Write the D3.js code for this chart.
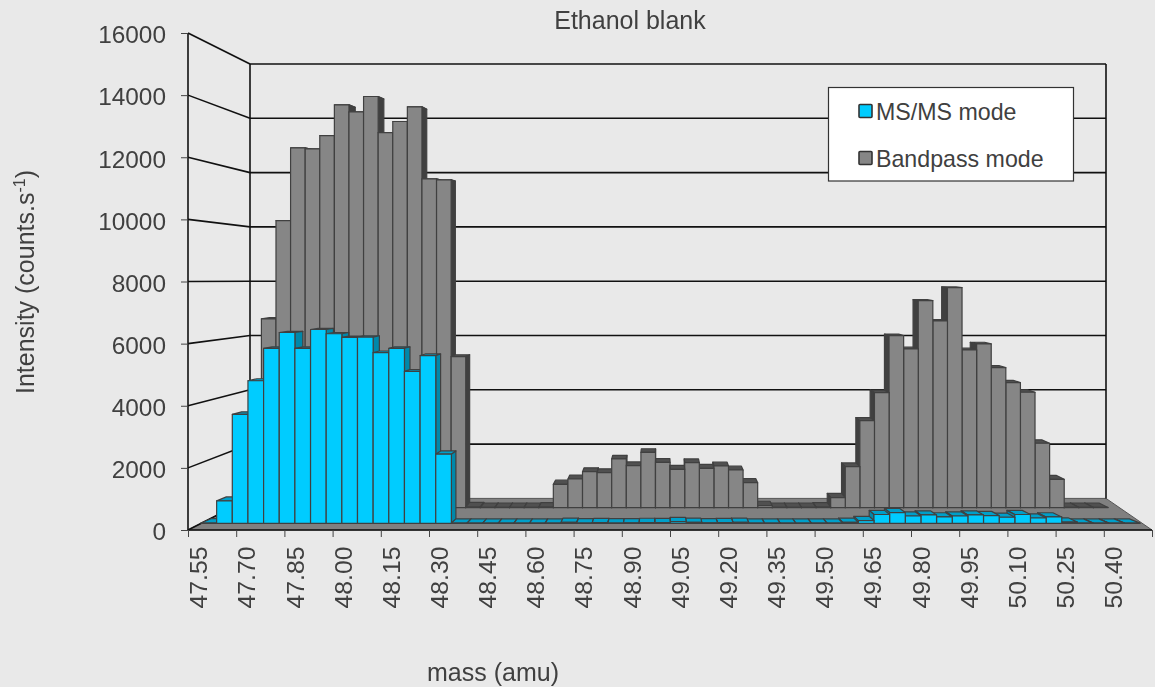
<!DOCTYPE html>
<html><head><meta charset="utf-8">
<script src="https://cdnjs.cloudflare.com/ajax/libs/d3/7.8.5/d3.min.js"></script>
<style>html,body{margin:0;padding:0;background:#e9e9e9}svg{display:block;filter:blur(0.35px)}text{font-family:"Liberation Sans",Arial,sans-serif;fill:#404040}</style>
</head><body><svg id="c" width="1155" height="687"></svg>
<script>
const tickLabels=["47.55","47.70","47.85","48.00","48.15","48.30","48.45","48.60","48.75","48.90","49.05","49.20","49.35","49.50","49.65","49.80","49.95","50.10","50.25","50.40"];
const msmsValues=[10,740,3590,4700,5770,6290,5770,6390,6250,6130,6140,5630,5770,5010,5530,2280,5,5,5,5,5,5,5,30,10,20,10,15,25,20,55,30,15,20,30,5,5,5,5,5,5,30,90,290,355,240,275,210,240,275,255,200,290,175,210,40,5,5,5,5];
const bandpassValues=[5,5,6668,10141,12710,12675,13145,14230,13982,14523,13251,13640,14159,11615,11580,5336,30,8,8,8,8,20,827,1014,1272,1237,1721,1484,1957,1604,1357,1590,1392,1473,1332,883,70,8,8,8,20,353,1449,3074,4064,6078,5608,7314,6597,7774,5572,5784,4947,4417,4078,2276,1003,8,8,8];
const seriesNames=["MS/MS mode","Bandpass mode"];
const yTicks=[0,2000,4000,6000,8000,10000,12000,14000,16000];

const svg=d3.select("#c");
const yFront=d3.scaleLinear([0,16000],[530,33]);
const yBack=d3.scaleLinear([0,16000],[498.4,64]);
const xAxisScale=d3.scaleLinear([0,60],[188,1152]);
const labelScale=d3.scalePoint(tickLabels,[198,1113]);

// back/side walls and floor
const wall=svg.append("g").attr("fill","none").attr("stroke","#111").attr("stroke-width",1.6);
svg.insert("polygon","g").attr("fill","#808080").attr("stroke","#555")
  .attr("points",[[250,yBack(0)],[1106,yBack(0)],[1152,yFront(0)],[188,yFront(0)]].join(" "));
yTicks.forEach(t=>{
  wall.append("line").attr("x1",188).attr("y1",yFront(t)).attr("x2",250).attr("y2",yBack(t));
  if(t>0)wall.append("line").attr("x1",250).attr("y1",yBack(t)).attr("x2",1106).attr("y2",yBack(t));
});
wall.append("line").attr("x1",188).attr("y1",yFront(16000)).attr("x2",188).attr("y2",yFront(0));
wall.append("line").attr("x1",250).attr("y1",yBack(16000)).attr("x2",250).attr("y2",yBack(0));
wall.append("line").attr("x1",1106).attr("y1",yBack(16000)).attr("x2",1106).attr("y2",yBack(0));

// bars: near and far scale for each row
function row(values,near,far,xNear,xFar,col){
  const vx=660, xn=d3.scaleLinear([0,60],xNear), xf=d3.scaleLinear([0,60],xFar);
  const yn=d3.scaleLinear([0,16000],near), yf=d3.scaleLinear([0,16000],far);
  const order=d3.range(values.length).filter(i=>xn(i)<vx).concat(d3.range(values.length).filter(i=>xn(i)>=vx).reverse());
  const g=svg.append("g").attr("stroke","#404040").attr("stroke-width",1.2).attr("stroke-linejoin","round");
  g.selectAll("g").data(order).join("g").each(function(i){
    const s=d3.select(this),v=values[i];
    const a=xn(i),b=xn(i+1),c=xf(i),d=xf(i+1);
    s.append("polygon").attr("fill",col.top).attr("points",[[a,yn(v)],[b,yn(v)],[d,yf(v)],[c,yf(v)]].join(" "));
    const e=(b<vx)?[b,d]:[a,c];
    s.append("polygon").attr("fill",col.side).attr("points",[[e[0],yn(0)],[e[0],yn(v)],[e[1],yf(v)],[e[1],yf(0)]].join(" "));
    s.append("rect").attr("fill",col.front).attr("x",a).attr("y",yn(v)).attr("width",b-a).attr("height",yn(0)-yn(v));
  });
}
row(bandpassValues,[507.7,54.7],[503.2,58],[232.2,1108],[240.8,1099],{front:"#868686",side:"#404040",top:"#505050"});
row(msmsValues,[523.3,38],[519,41.5],[201,1140],[211,1129.4],{front:"#00ccff",side:"#0088aa",top:"#009fc9"});

// axes
svg.append("line").attr("x1",188).attr("x2",1152).attr("y1",yFront(0)).attr("y2",yFront(0)).attr("stroke","#111").attr("stroke-width",1.6);
const ay=svg.append("g").attr("transform","translate(188,0)").call(d3.axisLeft(yFront).tickValues(yTicks).tickSize(7).tickFormat(d=>d));
ay.select(".domain").remove();
ay.selectAll("line").attr("stroke","#444");
ay.selectAll("text").attr("font-size",24.4).attr("x",-22).attr("dy","0.4em").style("fill","#404040");
const ax=svg.append("g").attr("transform","translate(0,530)").call(d3.axisBottom(xAxisScale).tickValues(d3.range(0,61,3)).tickSize(7).tickFormat(""));
ax.select(".domain").remove();
ax.selectAll("line").attr("stroke","#444");
const al=svg.append("g").attr("transform","translate(0,546.5)").call(d3.axisBottom(labelScale).tickSize(0));
al.select(".domain").remove();
al.selectAll("text").attr("font-size",24.8).attr("transform","rotate(-90)").attr("text-anchor","end").attr("x",0).attr("y",0).attr("dy","0.35em").style("fill","#404040");

// titles
svg.append("text").attr("x",630).attr("y",29).attr("text-anchor","middle").attr("font-size",25).text("Ethanol blank");
svg.append("text").attr("x",493).attr("y",681).attr("text-anchor","middle").attr("font-size",25).text("mass (amu)");
const yt=svg.append("text").attr("transform","translate(34,282) rotate(-90)").attr("text-anchor","middle").attr("font-size",25);
yt.append("tspan").text("Intensity (counts.s");
yt.append("tspan").attr("dy",-9).attr("font-size",16).text("-1");
yt.append("tspan").attr("dy",9).text(")");

// legend
const lg=svg.append("g");
lg.append("rect").attr("x",828.5).attr("y",87.5).attr("width",245).attr("height",93.5).attr("fill","#fff").attr("stroke","#333").attr("stroke-width",1.2);
[["#00ccff",111],["#868686",158]].forEach((d,i)=>{
  lg.append("rect").attr("x",859).attr("y",d[1]-6.5).attr("width",13).attr("height",13).attr("rx",1).attr("fill",d[0]).attr("stroke","#333").attr("stroke-width",1.6);
  lg.append("text").attr("x",876).attr("y",d[1]+9).attr("font-size",23.2).text(seriesNames[i]);
});
</script></body></html>
